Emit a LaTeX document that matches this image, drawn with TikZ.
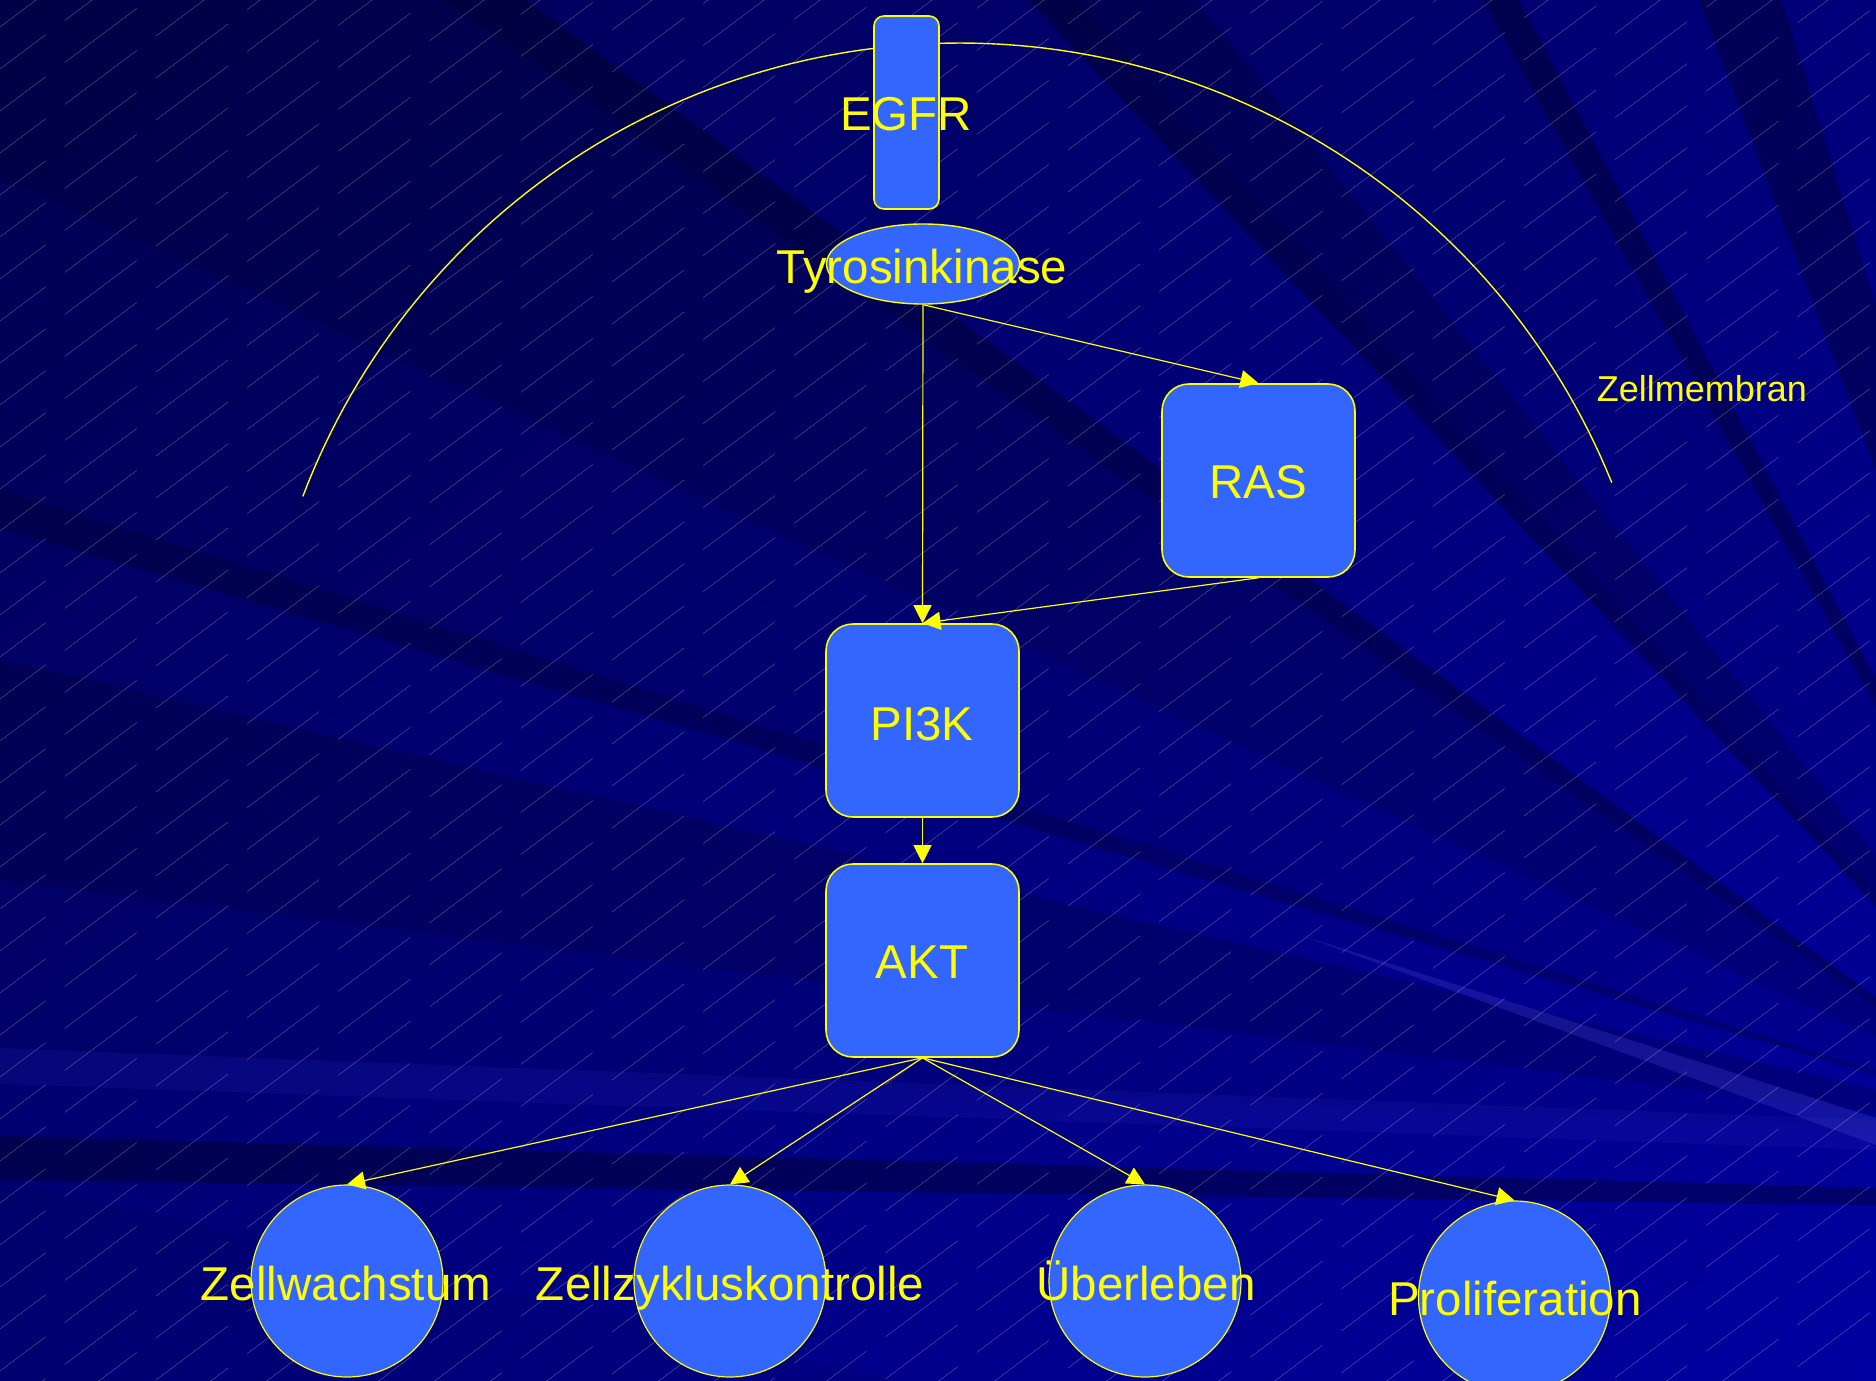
\documentclass[tikz,border=0pt]{standalone}
\usepackage{fontspec}
\setmainfont{Liberation Sans}
\usetikzlibrary{arrows.meta,shapes.geometric,shadings}
\definecolor{boxblue}{HTML}{3366FF}
\definecolor{ylw}{HTML}{FFFF00}
\definecolor{bgUL}{RGB}{0,0,84}
\definecolor{bgUR}{RGB}{0,0,122}
\definecolor{bgLL}{RGB}{0,0,120}
\definecolor{bgLR}{RGB}{0,0,160}
\definecolor{streak}{RGB}{60,60,200}
\tikzset{
  shapebox/.style={draw=ylw, fill=boxblue, line width=0.8pt, rounded corners=13.5pt,
    minimum width=96.5pt, minimum height=96.5pt, inner sep=0pt},
  egfrbox/.style={draw=ylw, fill=boxblue, line width=0.8pt, rounded corners=5pt,
    minimum width=32.5pt, minimum height=96.5pt, inner sep=0pt},
  ellbox/.style={ellipse, draw=ylw, fill=boxblue, line width=0.7pt,
    minimum width=96.5pt, minimum height=40pt, inner sep=0pt},
  circbox/.style={circle, draw=ylw, fill=boxblue, line width=0.6pt,
    minimum size=96pt, inner sep=0pt},
  lbl/.style={text=ylw, font=\fontsize{23.75}{28}\selectfont, anchor=base, inner sep=0pt},
  smalllbl/.style={text=ylw, font=\fontsize{18}{22}\selectfont, anchor=base, inner sep=0pt},
  conn/.style={draw=ylw, line width=0.6pt, -{Triangle[length=9pt,width=9pt]}},
  memb/.style={draw=ylw, line width=0.7pt},
  hatch/.style={draw=white, opacity=0.26, line width=0.3pt, dash pattern=on 45pt off 12pt},
  darkband/.style={fill=black, opacity=#1},
  lightband/.style={fill=streak, opacity=#1}
}
\begin{document}
\begin{tikzpicture}[x=0.5pt,y=-0.5pt]
\useasboundingbox (0,0) rectangle (1876,1381);
% background
\shade[upper left=bgUL, upper right=bgUR, lower left=bgLL, lower right=bgLR] (0,0) rectangle (1876,1381);
\begin{scope}
\clip (0,0) rectangle (1876,1381);
\coordinate (F) at (2100,1140);
\coordinate (G) at (2150,1200);
% rays from the left edge
\fill[darkband=0.17] (F) -- (0,176) -- (0,0) -- (443,0) -- (G) -- cycle;
\fill[darkband=0.05] (F) -- (0,176) -- (0,490) -- cycle;
\fill[darkband=0.22] (F) -- (0,490) -- (0,528) -- cycle;
\fill[darkband=0.17] (F) -- (0,660) -- (0,880) -- cycle;
\fill[darkband=0.05] (F) -- (0,880) -- (0,1048) -- cycle;
% rays from the top edge
\fill[darkband=0.3] (G) -- (443,0) -- (526,0) -- cycle;
\fill[darkband=0.3] (G) -- (1029,0) -- (1077,0) -- cycle;
\fill[darkband=0.22] (G) -- (1077,0) -- (1196,0) -- cycle;
\fill[darkband=0.05] (G) -- (1196,0) -- (1483,0) -- cycle;
\fill[darkband=0.3] (G) -- (1483,0) -- (1519,0) -- cycle;
\fill[darkband=0.27] (G) -- (1699,0) -- (1782,0) -- cycle;
% bottom bands and streaks
\fill[lightband=0.12] (0,1048) -- (0,1084) -- (1876,1150) -- (1876,1120) -- cycle;
\fill[lightband=0.35] (1300,935) -- (1876,1118) -- (1876,1145) -- cycle;
\fill[darkband=0.3] (0,1136) -- (0,1180) -- (1876,1205) -- (1876,1188) -- cycle;
\fill[darkband=0.06] (0,1180) -- (0,1381) -- (900,1381) -- cycle;
\foreach \i in {0,...,70}
  \draw[hatch] (-300,{\i*42}) -- ++(2400,-1800);
\end{scope}
% membrane
\draw[memb] plot[domain=22:159.2, samples=120] ({960+703*cos(\x)}, {746-703*sin(\x)});
% nodes
\node[egfrbox] (egfr) at (906.5,112.5) {};
\node[ellbox] (tk) at (923,264) {};
\node[shapebox] (ras) at (1258.5,480.5) {};
\node[shapebox] (pi3k) at (922.5,720.5) {};
\node[shapebox] (akt) at (922.5,960.5) {};
\node[circbox] (c1) at (347,1281) {};
\node[circbox] (c2) at (730,1281) {};
\node[circbox] (c3) at (1145,1281) {};
\node[circbox] (c4) at (1514.5,1297) {};
% labels
\node[lbl] (legfr) at (906,130) {EGFR};
\node[lbl] (ltk) at (922,283) {Tyrosinkinase};
\node[lbl] (lras) at (1258,498) {RAS};
\node[lbl] (lpi3k) at (922,740) {PI3K};
\node[lbl] (lakt) at (922,978) {AKT};
\node[lbl] (lc1) at (346,1300) {Zellwachstum};
\node[lbl] (lc2) at (730,1300) {Zellzykluskontrolle};
\node[lbl] (lc3) at (1146,1300) {Überleben};
\node[lbl] (lc4) at (1515,1315) {Proliferation};
\node[smalllbl] (lmem) at (1702,401) {Zellmembran};
% connectors
\draw[conn] (tk.south) -- (pi3k.north);
\draw[conn] (tk.south) -- (ras.north);
\draw[conn] (ras.south) -- (pi3k.north);
\draw[conn] (pi3k.south) -- (akt.north);
\draw[conn] (akt.south) -- (c1.north);
\draw[conn] (akt.south) -- (c2.north);
\draw[conn] (akt.south) -- (c3.north);
\draw[conn] (akt.south) -- (c4.north);
\end{tikzpicture}
\end{document}
